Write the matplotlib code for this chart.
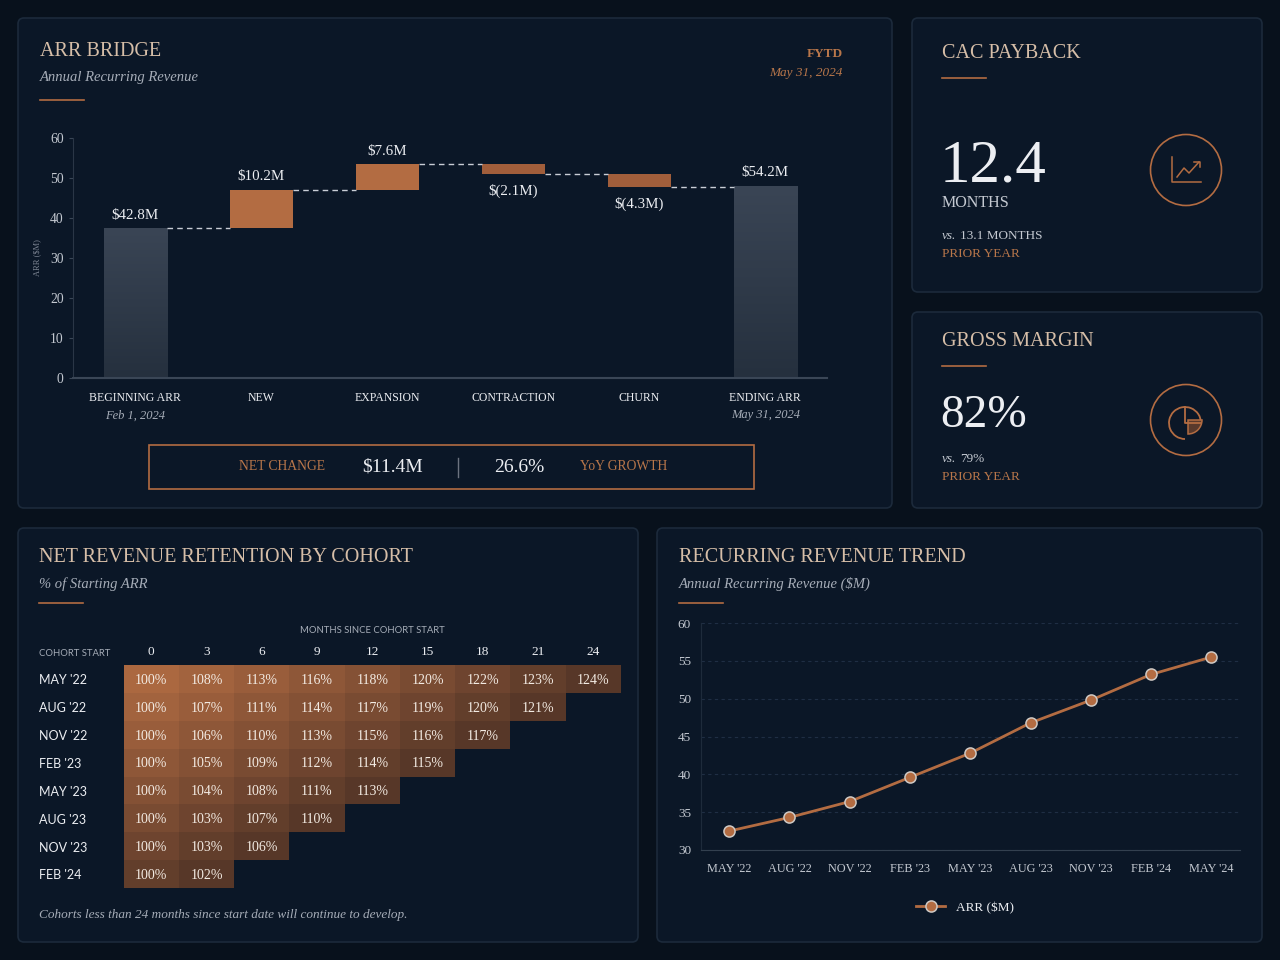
import numpy as np
import matplotlib
matplotlib.use('Agg')
import matplotlib.pyplot as plt
from matplotlib.patches import FancyBboxPatch, Rectangle, Circle, Wedge, Arc
from matplotlib.colors import to_rgb, LinearSegmentedColormap

W, H = 1280, 960

# --- ARR bridge (bar heights as drawn, labels as printed) ---
BRIDGE_CATS = ['BEGINNING ARR', 'NEW', 'EXPANSION', 'CONTRACTION', 'CHURN', 'ENDING ARR']
BRIDGE_DATES = ['Feb 1, 2024', '', '', '', '', 'May 31, 2024']
ARR_START = 37.4
ARR_DELTAS = [9.6, 6.5, -2.5, -3.2]
ARR_END = 48.0
BRIDGE_LABELS = ['$42.8M', '$10.2M', '$7.6M', '$(2.1M)', '$(4.3M)', '$54.2M']

# --- cohort net revenue retention (%) ---
COHORTS = ["MAY '22", "AUG '22", "NOV '22", "FEB '23", "MAY '23", "AUG '23", "NOV '23", "FEB '24"]
MONTHS = [0, 3, 6, 9, 12, 15, 18, 21, 24]
NRR = [
    [100, 108, 113, 116, 118, 120, 122, 123, 124],
    [100, 107, 111, 114, 117, 119, 120, 121],
    [100, 106, 110, 113, 115, 116, 117],
    [100, 105, 109, 112, 114, 115],
    [100, 104, 108, 111, 113],
    [100, 103, 107, 110],
    [100, 103, 106],
    [100, 102],
]

# --- recurring revenue trend ($M) ---
TREND_PERIODS = ["MAY '22", "AUG '22", "NOV '22", "FEB '23", "MAY '23",
                 "AUG '23", "NOV '23", "FEB '24", "MAY '24"]
TREND_ARR = [32.5, 34.3, 36.4, 39.6, 42.8, 46.8, 49.8, 53.2, 55.5]

BG = '#08111c'
PANEL = '#0b1727'
EDGE = '#1c2a3b'
TAN = '#d6bea8'
COPPER = '#b36c42'
COPPER_DK = '#a15e3b'
COPPER_TXT = '#b8764a'
WHITE = '#eceef2'
GRAY = '#a6adb8'
TICK = '#c4c9d1'
SERIF = 'Liberation Serif'
SANS = 'Lato'


def px_axes(fig, x0, y0, x1, y1, **kw):
    return fig.add_axes([x0 / W, 1 - y1 / H, (x1 - x0) / W, (y1 - y0) / H], **kw)


fig = plt.figure(figsize=(12.8, 9.6), dpi=100, facecolor=BG)

# overlay in pixel coordinates for panels, headings and icons
bg = px_axes(fig, 0, 0, W, H, zorder=0)
bg.set_xlim(0, W)
bg.set_ylim(H, 0)
bg.axis('off')

for x0, y0, x1, y1 in [(18, 18, 892, 508), (912, 18, 1262, 292), (912, 312, 1262, 508),
                       (18, 528, 638, 942), (657, 528, 1262, 942)]:
    bg.add_patch(FancyBboxPatch((x0, y0), x1 - x0, y1 - y0,
                                boxstyle='round,pad=0,rounding_size=6',
                                fc=PANEL, ec=EDGE, lw=1.2))


def heading(x, y, title, sub=None, line_y=None):
    bg.text(x, y, title, color=TAN, fontsize=14.5, family=SERIF, va='center', ha='left')
    if sub:
        bg.text(x, y + 26, sub, color=GRAY, fontsize=10.5, family=SERIF,
                style='italic', va='center', ha='left')
    if line_y is not None:
        bg.plot([x, x + 44], [line_y, line_y], color=COPPER, lw=1.2)


heading(40, 51, 'ARR BRIDGE', 'Annual Recurring Revenue', 100)
bg.text(843, 54, 'FYTD', color=COPPER_TXT, fontsize=9.5, family=SERIF,
        weight='bold', ha='right', va='center')
bg.text(843, 73, 'May 31, 2024', color=COPPER_TXT, fontsize=9.5, family=SERIF,
        style='italic', ha='right', va='center')
heading(942, 54, 'CAC PAYBACK', None, 78)
heading(942, 342, 'GROSS MARGIN', None, 366)
heading(39, 558, 'NET REVENUE RETENTION BY COHORT', '% of Starting ARR', 603)
heading(679, 558, 'RECURRING REVENUE TREND', 'Annual Recurring Revenue ($M)', 603)

# KPI cards
bg.text(940, 182, '12.4', color=WHITE, fontsize=44, family=SERIF, ha='left', va='baseline')
bg.text(942, 203, 'MONTHS', color=TICK, fontsize=11.5, family=SERIF, ha='left', va='center')
bg.text(942, 236, 'vs.', color=TICK, fontsize=9.5, family=SERIF, style='italic',
        ha='left', va='center')
bg.text(960, 236, '13.1 MONTHS', color=TICK, fontsize=9.5, family=SERIF, ha='left', va='center')
bg.text(942, 254, 'PRIOR YEAR', color=COPPER_TXT, fontsize=9.5, family=SERIF, ha='left', va='center')
bg.text(940, 427, '82%', color=WHITE, fontsize=34, family=SERIF, ha='left', va='baseline')
bg.text(942, 459, 'vs.', color=TICK, fontsize=9.5, family=SERIF, style='italic',
        ha='left', va='center')
bg.text(960, 459, '79%', color=TICK, fontsize=9.5, family=SERIF, ha='left', va='center')
bg.text(942, 477, 'PRIOR YEAR', color=COPPER_TXT, fontsize=9.5, family=SERIF, ha='left', va='center')

for cy in (170, 420):
    bg.add_patch(Circle((1186, cy), 35.5, fc='none', ec=COPPER, lw=1.2))
# trend icon
bg.plot([1172, 1172, 1201], [157, 182, 182], color=COPPER, lw=1.1)
bg.plot([1177, 1184, 1189, 1199], [177, 168, 173, 162], color=COPPER, lw=1.1)
bg.plot([1194, 1200, 1200], [161.5, 161.5, 167], color=COPPER, lw=1.1)
# pie icon
bg.add_patch(Arc((1185, 423), 32, 32, theta1=90, theta2=360, color=COPPER, lw=1.3))
bg.plot([1185, 1185, 1201], [407, 423, 423], color=COPPER, lw=1.3)
bg.add_patch(Wedge((1188, 420), 14, 0, 90, fc='#5a3a2c', ec=COPPER, lw=1.1))

# ---------------- ARR bridge ----------------
ax = px_axes(fig, 73.3, 138.3, 827, 377.7, zorder=2)
ax.set_facecolor('none')
x = np.arange(len(BRIDGE_CATS))
bottoms, heights, levels = [0], [ARR_START], [ARR_START]
level = ARR_START
for d in ARR_DELTAS:
    bottoms.append(min(level, level + d))
    heights.append(abs(d))
    level += d
    levels.append(level)
bottoms.append(0)
heights.append(ARR_END)
colors = ['none'] + [COPPER if d > 0 else COPPER_DK for d in ARR_DELTAS] + ['none']
bars = ax.bar(x, heights, bottom=bottoms, width=0.5, color=colors, lw=0, zorder=2)

grad = np.linspace(1, 0, 200).reshape(-1, 1)
gcmap = LinearSegmentedColormap.from_list('g', ['#25303e', '#3a4555'])
for i in (0, len(x) - 1):
    b = bars[i]
    im = ax.imshow(grad, extent=[x[i] - 0.25, x[i] + 0.25, 0, heights[i]], aspect='auto',
                   cmap=gcmap, origin='upper', zorder=1.5)
    im.set_clip_path(b)
    b.set_facecolor('none')

for i in range(len(x) - 1):
    ax.plot([x[i] + 0.25, x[i + 1] - 0.25], [levels[i], levels[i]], color='#c9ced6',
            lw=1.0, dashes=(4, 3), zorder=3)

for i, lab in enumerate(BRIDGE_LABELS):
    if i in (1, 2, 3, 4) and ARR_DELTAS[i - 1] < 0:
        ax.annotate(lab, (x[i], bottoms[i]), xytext=(0, -12), textcoords='offset points',
                    ha='center', va='center', color=WHITE, fontsize=10.8, family=SERIF)
    else:
        ax.annotate(lab, (x[i], bottoms[i] + heights[i]), xytext=(0, 9.5),
                    textcoords='offset points', ha='center', va='center',
                    color=WHITE, fontsize=10.8, family=SERIF)

ax.set_xlim(-0.49, 5.49)
ax.set_ylim(0, 60)
ax.set_yticks(range(0, 61, 10))
ax.set_xticks(x)
ax.set_xticklabels(BRIDGE_CATS, family=SERIF, fontsize=8.5, color=WHITE)
ax.tick_params(axis='x', length=0, pad=10)
ax.tick_params(axis='y', length=3, color='#3a4656', pad=4, labelsize=9.8, labelcolor=TICK)
for t in ax.get_yticklabels():
    t.set_family(SERIF)
for s in ('top', 'right'):
    ax.spines[s].set_visible(False)
ax.spines['left'].set_color('#2a3646')
ax.spines['bottom'].set_color('#3a4656')
ax.spines['bottom'].set_linewidth(1.5)
for i, dt in enumerate(BRIDGE_DATES):
    if dt:
        ax.text(x[i], -0.157, dt, transform=ax.get_xaxis_transform(), ha='center',
                va='center', color=GRAY, fontsize=9, family=SERIF, style='italic')
ax.set_ylabel('ARR ($M)', color='#7d8593', fontsize=6, family=SERIF, labelpad=6)

# net change strip
bg.add_patch(Rectangle((148.7, 445), 605, 44, fc='none', ec=COPPER, lw=1.2))
bg.text(282, 467, 'NET CHANGE', color=COPPER_TXT, fontsize=9.8, family=SERIF,
        ha='center', va='center')
bg.text(393, 467, '$11.4M', color=WHITE, fontsize=14, family=SERIF, ha='center', va='center')
bg.plot([458, 458], [458, 477], color='#6c7380', lw=1)
bg.text(519, 467, '26.6%', color=WHITE, fontsize=14, family=SERIF, ha='center', va='center')
bg.text(624, 467, 'YoY GROWTH', color=COPPER_TXT, fontsize=9.8, family=SERIF,
        ha='center', va='center')

# ---------------- NRR heatmap ----------------
hx = px_axes(fig, 123.6, 665, 621, 888, zorder=2)
hx.set_facecolor('none')
hx.set_xlim(0, len(MONTHS))
hx.set_ylim(len(COHORTS), 0)
hx.axis('off')
light, dark = np.array(to_rgb('#ab6840')), np.array(to_rgb('#573728'))
for r, row in enumerate(NRR):
    for c, v in enumerate(row):
        t = min((r + c) / 8.0, 1.0) ** 1.1
        hx.add_patch(Rectangle((c, r), 1, 1, fc=light * (1 - t) + dark * t, lw=0))
        hx.text(c + 0.5, r + 0.55, f'{v}%', ha='center', va='center', color='#f3ebe3',
                fontsize=10, family=SERIF)
    hx.text(-1.53, r + 0.55, COHORTS[r], ha='left', va='center', color=WHITE,
            fontsize=9, family=SANS, clip_on=False)
for c, m in enumerate(MONTHS):
    hx.text(c + 0.5, -0.47, str(m), ha='center', va='center', color=WHITE,
            fontsize=9.5, family=SERIF, clip_on=False)
hx.text(-1.53, -0.42, 'COHORT START', ha='left', va='center', color=GRAY,
        fontsize=6.8, family=SANS, clip_on=False)
hx.text(len(MONTHS) / 2, -1.25, 'MONTHS SINCE COHORT START', ha='center', va='center',
        color=GRAY, fontsize=6.8, family=SANS, clip_on=False)
bg.text(39, 915, 'Cohorts less than 24 months since start date will continue to develop.',
        color=GRAY, fontsize=9.5, family=SERIF, style='italic', ha='left', va='center')

# ---------------- trend line ----------------
lx = px_axes(fig, 700.8, 623, 1239.7, 850, zorder=2)
lx.set_facecolor('none')
xi = np.arange(len(TREND_PERIODS))
lx.plot(xi, TREND_ARR, color=COPPER, lw=2, marker='o', ms=8, mfc=COPPER,
        mec='#cfc9c4', mew=1.1, label='ARR ($M)', zorder=3)
lx.set_xlim(-0.47, 8.47)
lx.set_ylim(30, 60)
lx.set_yticks(range(30, 61, 5))
lx.set_xticks(xi)
lx.set_xticklabels(TREND_PERIODS, family=SERIF, fontsize=8.8, color=TICK)
lx.tick_params(axis='x', length=0, pad=9)
lx.tick_params(axis='y', length=0, pad=7, labelsize=9.5, labelcolor=TICK)
for t in lx.get_yticklabels():
    t.set_family(SERIF)
lx.grid(axis='y', color='#1f2e44', lw=0.8, ls=(0, (3, 3)))
for s in ('top', 'right'):
    lx.spines[s].set_visible(False)
lx.spines['left'].set_color('#1e2b3b')
lx.spines['bottom'].set_color('#33404f')
leg = lx.legend(loc='center', bbox_to_anchor=(0.49, -0.255), frameon=False,
                handlelength=2.2, prop={'family': SERIF, 'size': 9.5})
for txt in leg.get_texts():
    txt.set_color(WHITE)

fig.savefig('out.png', dpi=100, facecolor=BG)
